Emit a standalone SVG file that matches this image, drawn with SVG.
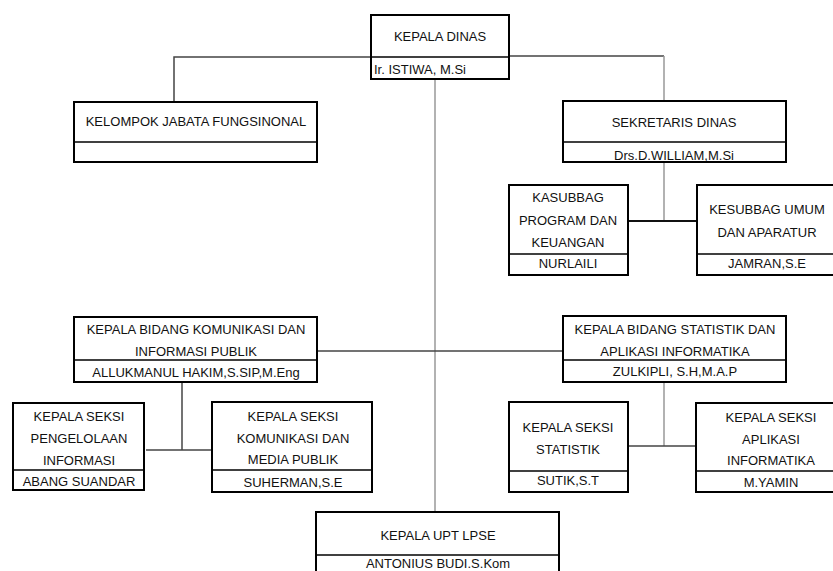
<svg xmlns="http://www.w3.org/2000/svg" width="833" height="571" viewBox="0 0 833 571">
<style>
.box{fill:#fff;stroke:#000;stroke-width:2}
.div{stroke:#000;stroke-width:1.5}
.t{font-family:"Liberation Sans",Arial,sans-serif;font-size:13px;fill:#111;text-anchor:middle}
.tl{font-family:"Liberation Sans",Arial,sans-serif;font-size:13px;fill:#111}
.c{fill:none;stroke:#444;stroke-width:1.5}
.cg{fill:none;stroke:#999;stroke-width:1.5}
</style>
<rect width="833" height="571" fill="#fff"/>
<g id="connectors">
<polyline class="c" points="371,57 174,57 174,102"/>
<polyline class="c" points="509,56 664,56"/>
<line class="cg" x1="664" y1="56" x2="664" y2="101"/>
<line class="cg" x1="435" y1="80" x2="435" y2="512"/>
<line class="c" x1="317" y1="351" x2="563" y2="351"/>
<line class="cg" x1="664" y1="162" x2="664" y2="221"/>
<line class="c" x1="628" y1="221" x2="697" y2="221" style="stroke:#111;stroke-width:2"/>
<line class="c" x1="182" y1="383" x2="182" y2="450"/>
<line class="c" x1="146" y1="450" x2="212" y2="450"/>
<line class="cg" x1="664" y1="382" x2="664" y2="446"/>
<line class="c" x1="629" y1="446" x2="696" y2="446"/>
</g>
<g id="kepala-dinas">
<rect class="box" x="371" y="15" width="138" height="64"/>
<line class="div" x1="371" y1="57" x2="509" y2="57"/>
<text class="t" x="440" y="41">KEPALA DINAS</text>
<text class="tl" x="374" y="74">Ir. ISTIWA, M.Si</text>
</g>
<g id="kelompok">
<rect class="box" x="74" y="102" width="243" height="60"/>
<line class="div" x1="74" y1="142" x2="317" y2="142"/>
<text class="t" x="196" y="126">KELOMPOK JABATA FUNGSINONAL</text>
</g>
<g id="sekretaris">
<rect class="box" x="563" y="101" width="223" height="61"/>
<line class="div" x1="563" y1="142" x2="786" y2="142"/>
<text class="t" x="674" y="127">SEKRETARIS DINAS</text>
<text class="t" x="674" y="160">Drs.D.WILLIAM,M.Si</text>
</g>
<g id="kasubbag-program">
<rect class="box" x="509" y="185" width="119" height="90"/>
<line class="div" x1="509" y1="254" x2="628" y2="254"/>
<text class="t" x="568" y="202">KASUBBAG</text>
<text class="t" x="568" y="225">PROGRAM DAN</text>
<text class="t" x="568" y="247">KEUANGAN</text>
<text class="t" x="568" y="268">NURLAILI</text>
</g>
<g id="kesubbag-umum">
<rect class="box" x="697" y="185" width="145" height="90"/>
<line class="div" x1="697" y1="254" x2="842" y2="254"/>
<text class="t" x="767" y="214">KESUBBAG UMUM</text>
<text class="t" x="767" y="237">DAN APARATUR</text>
<text class="t" x="767" y="268">JAMRAN,S.E</text>
</g>
<g id="bidang-komunikasi">
<rect class="box" x="74" y="317" width="243" height="65"/>
<line class="div" x1="74" y1="360" x2="317" y2="360"/>
<text class="t" x="196" y="334">KEPALA BIDANG KOMUNIKASI DAN</text>
<text class="t" x="196" y="356">INFORMASI PUBLIK</text>
<text class="t" x="196" y="377">ALLUKMANUL HAKIM,S.SIP,M.Eng</text>
</g>
<g id="bidang-statistik">
<rect class="box" x="563" y="316" width="223" height="66"/>
<line class="div" x1="563" y1="360" x2="786" y2="360"/>
<text class="t" x="675" y="334">KEPALA BIDANG STATISTIK DAN</text>
<text class="t" x="675" y="356">APLIKASI INFORMATIKA</text>
<text class="t" x="675" y="376">ZULKIPLI, S.H,M.A.P</text>
</g>
<g id="seksi-pengelolaan">
<rect class="box" x="13" y="403" width="131" height="87"/>
<line class="div" x1="13" y1="470" x2="144" y2="470"/>
<text class="t" x="79" y="421">KEPALA SEKSI</text>
<text class="t" x="79" y="443">PENGELOLAAN</text>
<text class="t" x="79" y="465">INFORMASI</text>
<text class="t" x="79" y="486">ABANG SUANDAR</text>
</g>
<g id="seksi-komunikasi">
<rect class="box" x="212" y="402" width="160" height="90"/>
<line class="div" x1="212" y1="470" x2="372" y2="470"/>
<text class="t" x="293" y="421">KEPALA SEKSI</text>
<text class="t" x="293" y="443">KOMUNIKASI DAN</text>
<text class="t" x="293" y="464">MEDIA PUBLIK</text>
<text class="t" x="293" y="487">SUHERMAN,S.E</text>
</g>
<g id="seksi-statistik">
<rect class="box" x="509" y="402" width="119" height="90"/>
<line class="div" x1="509" y1="471" x2="628" y2="471"/>
<text class="t" x="568" y="432">KEPALA SEKSI</text>
<text class="t" x="568" y="454">STATISTIK</text>
<text class="t" x="568" y="485">SUTIK,S.T</text>
</g>
<g id="seksi-aplikasi">
<rect class="box" x="696" y="403" width="150" height="89"/>
<line class="div" x1="696" y1="471" x2="846" y2="471"/>
<text class="t" x="771" y="422">KEPALA SEKSI</text>
<text class="t" x="771" y="444">APLIKASI</text>
<text class="t" x="771" y="465">INFORMATIKA</text>
<text class="t" x="771" y="487">M.YAMIN</text>
</g>
<g id="upt-lpse">
<rect class="box" x="316" y="512" width="243" height="70"/>
<line class="div" x1="316" y1="555" x2="559" y2="555"/>
<text class="t" x="438" y="540">KEPALA UPT LPSE</text>
<text class="t" x="438" y="568">ANTONIUS BUDI.S.Kom</text>
</g>
</svg>
